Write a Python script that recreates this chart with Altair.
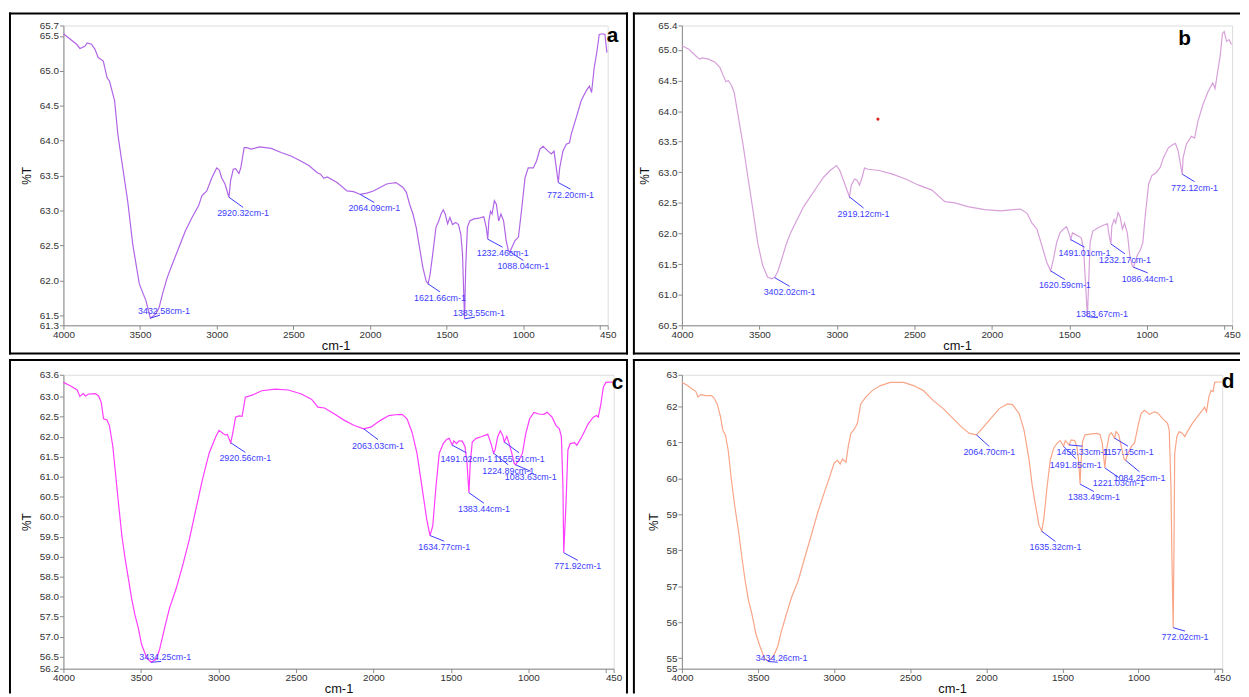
import altair as alt
import pandas as pd

FONT = "Liberation Sans"
BLUE = "#3c3cff"

# ---------------- panel a ----------------
a_wn = [4000, 3914, 3892, 3860, 3845, 3817, 3795, 3773, 3740, 3715, 3699, 3666, 3645, 3613, 3581, 3548,
        3505, 3462, 3432.58, 3397, 3376, 3353, 3323, 3290, 3247, 3204, 3161, 3118, 3097, 3065, 3032, 3000,
        2983, 2968, 2946, 2920.32, 2910, 2892, 2877, 2855, 2843, 2821, 2806, 2774, 2720, 2645, 2580, 2516,
        2452, 2397, 2344, 2323, 2301, 2279, 2215, 2150, 2107, 2064.09, 2021, 1978, 1935, 1892, 1860, 1832,
        1817, 1785, 1763, 1742, 1720, 1699, 1677, 1656, 1634, 1621.66, 1608, 1591, 1570, 1552, 1537, 1522,
        1510, 1494, 1479, 1462, 1441, 1423, 1408, 1397, 1383.55, 1376, 1365, 1350, 1323, 1290, 1258, 1242,
        1232.46, 1225, 1214, 1204, 1189, 1176, 1161, 1146, 1129, 1112, 1097, 1088.04, 1075, 1054, 1032, 1010,
        989, 968, 935, 914, 892, 871, 839, 817, 800, 785, 772.20, 763, 742, 720, 699, 688, 655, 623, 591,
        569, 555, 538, 520, 505, 484, 468, 455]
a_T = [65.53, 65.38, 65.32, 65.35, 65.40, 65.38, 65.31, 65.19, 65.14, 64.90, 64.85, 64.57, 64.09, 63.61, 63.14, 62.52,
       61.95, 61.71, 61.46, 61.52, 61.61, 61.81, 62.04, 62.23, 62.47, 62.71, 62.90, 63.07, 63.21, 63.28, 63.47, 63.61,
       63.58, 63.47, 63.38, 63.19, 63.42, 63.59, 63.60, 63.53, 63.61, 63.90, 63.90, 63.88, 63.91, 63.89, 63.83, 63.78,
       63.71, 63.64, 63.54, 63.52, 63.46, 63.48, 63.40, 63.28, 63.27, 63.23, 63.25, 63.28, 63.33, 63.38, 63.39, 63.40,
       63.38, 63.33, 63.26, 63.09, 62.95, 62.76, 62.47, 62.19, 61.99, 61.95, 62.09, 62.38, 62.76, 62.85, 62.95, 63.01,
       62.95, 62.81, 62.90, 62.80, 62.83, 62.80, 62.66, 62.38, 61.45, 62.19, 62.76, 62.85, 62.88, 62.89, 62.91, 62.76,
       62.59, 62.85, 62.99, 62.95, 63.14, 63.09, 62.85, 62.95, 62.85, 62.57, 62.42, 62.41, 62.47, 62.57, 62.62, 63.04,
       63.47, 63.61, 63.61, 63.71, 63.88, 63.92, 63.85, 63.81, 63.85, 63.61, 63.40, 63.61, 63.85, 63.95, 63.97, 64.09,
       64.33, 64.57, 64.71, 64.78, 64.69, 65.04, 65.28, 65.52, 65.53, 65.52, 65.26]
a_pk_wn = [3432.58, 2920.32, 2064.09, 1621.66, 1383.55, 1232.46, 1088.04, 772.20]
a_pk_T = [61.46, 63.19, 63.23, 61.95, 61.45, 62.59, 62.41, 63.40]
a_lb_wn = [3344, 2828, 1972, 1544, 1290, 1135, 1000, 692]
a_lb_T = [61.56, 62.96, 63.03, 61.75, 61.53, 62.39, 62.20, 63.22]
a_yticks = [61.357, 61.5, 62.0, 62.5, 63.0, 63.5, 64.0, 64.5, 65.0, 65.5, 65.649]

# ---------------- panel b ----------------
b_wn = [4000, 3955, 3913, 3887, 3871, 3828, 3786, 3754, 3733, 3716, 3701, 3680, 3663, 3638, 3606, 3574,
        3542, 3511, 3479, 3447, 3421, 3402.02, 3383, 3362, 3330, 3299, 3256, 3214, 3172, 3129, 3086, 3044,
        3002, 2981, 2949, 2919.12, 2907, 2886, 2870, 2854, 2837, 2822, 2800, 2727, 2641, 2557, 2472, 2387,
        2303, 2239, 2154, 2048, 1942, 1858, 1815, 1773, 1741, 1709, 1677, 1646, 1620.59, 1603, 1582, 1561,
        1539, 1518, 1503, 1491.01, 1480, 1465, 1444, 1423, 1408, 1395, 1383.67, 1376, 1366, 1349, 1317, 1285,
        1254, 1243, 1232.17, 1226, 1211, 1201, 1186, 1173, 1158, 1144, 1126, 1110, 1094, 1086.44, 1062, 1041,
        1026, 1009, 988, 967, 942, 914, 893, 861, 830, 815, 798, 772.12, 766, 745, 713, 692, 671, 639, 607,
        575, 560, 544, 527, 512, 501, 486, 469, 454]
b_T = [65.07, 65.01, 64.91, 64.85, 64.87, 64.85, 64.80, 64.71, 64.58, 64.48, 64.50, 64.42, 64.31, 63.94, 63.46, 62.92,
       62.39, 61.85, 61.48, 61.29, 61.26, 61.28, 61.37, 61.53, 61.80, 62.01, 62.23, 62.44, 62.60, 62.76, 62.92, 63.03,
       63.11, 63.03, 62.81, 62.60, 62.79, 62.89, 62.87, 62.79, 62.92, 63.07, 63.05, 63.03, 62.97, 62.89, 62.79, 62.71,
       62.52, 62.50, 62.44, 62.39, 62.37, 62.39, 62.40, 62.33, 62.17, 62.07, 61.80, 61.53, 61.39, 61.58, 61.85, 62.01,
       62.07, 62.11, 62.01, 61.90, 62.01, 61.99, 61.96, 61.93, 61.74, 61.16, 60.64, 61.16, 61.85, 62.04, 62.09, 62.13,
       62.16, 61.96, 61.83, 62.12, 62.23, 62.17, 62.34, 62.28, 62.07, 62.17, 62.01, 61.64, 61.47, 61.45, 61.64, 61.74,
       61.85, 62.33, 62.81, 62.95, 62.99, 63.08, 63.24, 63.40, 63.46, 63.47, 63.35, 62.97, 63.24, 63.46, 63.59, 63.56,
       63.83, 64.10, 64.31, 64.46, 64.37, 64.63, 64.90, 65.27, 65.30, 65.14, 65.17, 65.09]
b_pk_wn = [3402.02, 2919.12, 1620.59, 1491.01, 1383.67, 1232.17, 1086.44, 772.12]
b_pk_T = [61.28, 62.60, 61.39, 61.90, 60.64, 61.83, 61.45, 62.97]
b_lb_wn = [3305, 2828, 1529, 1402, 1290, 1141, 995, 692]
b_lb_T = [61.04, 62.32, 61.15, 61.68, 60.69, 61.57, 61.26, 62.75]
b_dot_wn = [2735]
b_dot_T = [63.87]
b_yticks = [60.5, 61.0, 61.5, 62.0, 62.5, 63.0, 63.5, 64.0, 64.5, 65.0, 65.4]

# ---------------- panel c ----------------
c_wn = [4000, 3953, 3911, 3894, 3872, 3858, 3837, 3794, 3773, 3756, 3741, 3719, 3703, 3681, 3666, 3645,
        3623, 3602, 3581, 3560, 3539, 3517, 3496, 3464, 3434.25, 3400, 3379, 3347, 3315, 3272, 3230, 3187,
        3145, 3103, 3060, 3017, 2996, 2970, 2953, 2943, 2920.56, 2908, 2889, 2868, 2847, 2826, 2783, 2720,
        2634, 2549, 2464, 2400, 2390, 2358, 2315, 2251, 2187, 2123, 2063.03, 2017, 1954, 1900, 1858, 1815,
        1783, 1751, 1719, 1687, 1656, 1634.77, 1617, 1596, 1575, 1549, 1528, 1511, 1491.02, 1481, 1464, 1447,
        1426, 1409, 1396, 1383.44, 1375, 1362, 1337, 1305, 1262, 1241, 1224.89, 1215, 1198, 1181, 1166,
        1155.51, 1139, 1124, 1107, 1092, 1083.63, 1060, 1038, 1017, 992, 964, 932, 900, 879, 847, 821, 800,
        787, 777, 771.92, 757, 745, 730, 702, 687, 655, 613, 581, 560, 549, 532, 517, 500, 464, 450]
c_T = [63.36, 63.27, 63.17, 63.01, 63.08, 63.02, 63.07, 63.08, 63.02, 62.86, 62.45, 62.42, 62.28, 61.75, 61.17, 60.35,
       59.53, 58.95, 58.46, 57.96, 57.55, 57.22, 56.81, 56.48, 56.36, 56.44, 56.69, 57.22, 57.72, 58.21, 58.79, 59.44,
       60.19, 60.93, 61.59, 62.00, 62.16, 62.08, 62.04, 62.06, 61.85, 62.08, 62.49, 62.52, 62.51, 62.99, 63.04, 63.15,
       63.19, 63.17, 63.07, 62.94, 62.90, 62.74, 62.72, 62.57, 62.41, 62.28, 62.20, 62.24, 62.41, 62.53, 62.55, 62.56,
       62.45, 62.12, 61.59, 60.76, 59.94, 59.53, 59.77, 60.76, 61.59, 61.83, 61.93, 61.96, 61.79, 61.90, 61.83, 61.90,
       61.89, 61.75, 61.34, 60.60, 61.34, 61.87, 61.96, 62.00, 62.06, 61.83, 61.59, 61.67, 62.00, 62.15, 62.04,
       61.87, 62.01, 61.83, 61.59, 61.34, 61.30, 61.42, 61.59, 62.08, 62.45, 62.61, 62.57, 62.56, 62.61, 62.49, 62.28, 62.20,
       62.00, 60.76, 59.10, 60.35, 61.67, 61.83, 61.85, 61.79, 62.00, 62.33, 62.49, 62.53, 62.49, 62.82, 63.23, 63.36, 63.37, 63.36]
c_pk_wn = [3434.25, 2920.56, 2063.03, 1634.77, 1491.02, 1383.44, 1224.89, 1155.51, 1083.63, 771.92]
c_pk_T = [56.36, 61.85, 62.20, 59.53, 61.79, 60.60, 61.59, 61.87, 61.30, 59.10]
c_lb_wn = [3343, 2826, 1970, 1543, 1400, 1287, 1130, 1060, 985, 681]
c_lb_T = [56.48, 61.46, 61.78, 59.24, 61.45, 60.19, 61.15, 61.45, 60.99, 58.76]
c_yticks = [56.2, 56.5, 57.0, 57.5, 58.0, 58.5, 59.0, 59.5, 60.0, 60.5, 61.0, 61.5, 62.0, 62.5, 63.0, 63.55]

# ---------------- panel d ----------------
d_wn = [4000, 3963, 3930, 3909, 3894, 3876, 3844, 3805, 3790, 3768, 3746, 3731, 3714, 3696, 3675, 3653,
        3627, 3605, 3584, 3562, 3540, 3514, 3486, 3458, 3434.26, 3400, 3371, 3345, 3313, 3280, 3237, 3194,
        3150, 3107, 3064, 3031, 2999, 2977, 2960, 2945, 2922, 2907, 2890, 2868, 2847, 2825, 2792, 2749,
        2695, 2630, 2543, 2478, 2413, 2348, 2283, 2218, 2153, 2110, 2064.70, 2045, 1980, 1915, 1861, 1828,
        1784, 1752, 1719, 1698, 1676, 1654, 1635.32, 1622, 1600, 1579, 1557, 1535, 1514, 1491.85, 1481,
        1456.33, 1442, 1420, 1405, 1394, 1383.49, 1379, 1368, 1351, 1319, 1275, 1253, 1238, 1227, 1221.03,
        1210, 1192, 1178, 1157.15, 1148, 1130, 1113, 1095, 1084.25, 1069, 1047, 1026, 1004, 983, 961, 928,
        896, 874, 841, 809, 798, 787, 781, 772.02, 767, 762, 748, 733, 711, 696, 679, 646, 614, 581, 566,
        553, 538, 523, 510, 499, 479, 463, 452]
d_T = [62.67, 62.58, 62.48, 62.42, 62.26, 62.33, 62.30, 62.30, 62.24, 62.07, 61.71, 61.34, 61.21, 60.79, 59.97, 59.24,
       58.51, 57.78, 57.14, 56.60, 56.23, 55.68, 55.32, 55.00, 54.91, 55.04, 55.32, 55.77, 56.23, 56.69, 57.14, 57.78,
       58.42, 59.06, 59.61, 60.02, 60.43, 60.50, 60.40, 60.54, 60.45, 60.89, 61.25, 61.36, 61.53, 62.07, 62.26, 62.44,
       62.58, 62.67, 62.67, 62.58, 62.44, 62.16, 61.94, 61.66, 61.39, 61.25, 61.21, 61.30, 61.62, 61.94, 62.07, 62.05,
       61.80, 61.34, 60.52, 59.79, 59.24, 58.70, 58.53, 58.88, 59.79, 60.52, 60.84, 60.98, 61.05, 60.89, 61.05,
       60.93, 61.07, 61.05, 60.89, 60.52, 59.84, 60.34, 61.02, 61.21, 61.23, 61.25, 61.22, 60.98, 60.52, 60.29,
       60.80, 61.21, 61.27, 61.12, 61.30, 61.21, 60.89, 60.54, 60.50, 60.70, 60.89, 60.98, 61.44, 61.80, 61.89, 61.78,
       61.85, 61.82, 61.66, 61.53, 61.34, 59.79, 57.97, 55.85, 57.97, 60.70, 61.16, 61.30, 61.25, 61.16, 61.30, 61.53,
       61.71, 61.89, 61.98, 61.85, 62.26, 62.44, 62.42, 62.67, 62.68, 62.68, 62.68]
d_pk_wn = [3434.26, 2064.70, 1635.32, 1456.33, 1491.85, 1383.49, 1221.03, 1157.15, 1084.25, 772.02]
d_pk_T = [54.91, 61.21, 58.53, 60.93, 60.89, 59.84, 60.29, 61.12, 60.50, 55.85]
d_lb_wn = [3345, 1980, 1546, 1368, 1412, 1293, 1130, 1069, 994, 694]
d_lb_T = [55.00, 60.72, 58.08, 60.73, 60.38, 59.47, 59.86, 60.73, 60.02, 55.59]
d_yticks = [54.71, 55, 56, 57, 58, 59, 60, 61, 62, 62.88]

X_TICKS = [4000, 3500, 3000, 2500, 2000, 1500, 1000, 500, 450]

ONE = pd.DataFrame({"k": [0]})


def frame_line(x1, y1, x2, y2):
    return alt.Chart(ONE).mark_rule(color="black", strokeWidth=2, strokeCap="square").encode(
        x=alt.value(x1), y=alt.value(y1), x2=alt.value(x2), y2=alt.value(y2))


def make_panel(wn, T, pk_wn, pk_T, lb_wn, lb_T, yticks, lo_lab, hi_lab, fmt,
               W, H, color, letter, letter_xy, frame, extra=None):
    ylo, yhi = yticks[0], yticks[-1]
    xs = alt.Scale(domain=[4000, 450], nice=False, zero=False)
    ys = alt.Scale(domain=[ylo, yhi], nice=False, zero=False)
    common = dict(grid=False, tickSize=4, labelFontSize=10, labelFont=FONT, labelColor="#333",
                  labelFlush=False, labelOverlap=False, domainColor="#8a8a8a",
                  tickColor="#8a8a8a", titleFont=FONT, titleFontWeight="normal", titleColor="#111")
    xaxis = alt.Axis(values=X_TICKS, title="cm-1",
                     labelExpr="datum.value == 500 ? '' : format(datum.value, 'd')",
                     labelPadding=0, titleFontSize=13, titlePadding=0, **common)
    yaxis = alt.Axis(values=yticks, title="%T",
                     labelExpr=(f"datum.value <= {ylo} + 1e-6 ? '{lo_lab}' : "
                                f"datum.value >= {yhi} - 1e-6 ? '{hi_lab}' : format(datum.value, '{fmt}')"),
                     labelPadding=1, titleFontSize=12, titlePadding=6, **common)

    def X(f):
        return alt.X(f"{f}:Q", scale=xs, axis=xaxis)

    def Y(f):
        return alt.Y(f"{f}:Q", scale=ys, axis=yaxis)

    spec = pd.DataFrame({"wn": wn, "T": T})
    pk = pd.DataFrame({"pw": pk_wn, "pT": pk_T, "lw": lb_wn, "lT": lb_T})
    pk["txt"] = [f"{w:.2f}cm-1" for w in pk_wn]
    pk["up"] = pk["lT"] > pk["pT"]

    layers = [frame_line(*f) for f in frame]
    layers.append(alt.Chart(spec).mark_line(color=color, strokeWidth=1.2).encode(x=X("wn"), y=Y("T")))
    layers.append(alt.Chart(pk).transform_filter("!datum.up").mark_rule(
        color=BLUE, strokeWidth=1, y2Offset=-6).encode(x=X("pw"), y=Y("pT"), x2="lw:Q", y2="lT:Q"))
    layers.append(alt.Chart(pk).transform_filter("datum.up").mark_rule(
        color=BLUE, strokeWidth=1, y2Offset=4, x2Offset=-4).encode(x=X("pw"), y=Y("pT"), x2="lw:Q", y2="lT:Q"))
    layers.append(alt.Chart(pk).mark_text(fontSize=9, font=FONT, color=BLUE).encode(
        x=X("lw"), y=Y("lT"), text="txt:N"))
    layers.append(alt.Chart(ONE).mark_text(fontSize=21, fontWeight="bold", font=FONT, color="black").encode(
        x=alt.value(letter_xy[0]), y=alt.value(letter_xy[1]), text=alt.value(letter)))
    if extra is not None:
        dot = pd.DataFrame({"dw": extra[0], "dT": extra[1]})
        layers.append(alt.Chart(dot).mark_point(filled=True, color="#e02020", size=10, opacity=1).encode(
            x=X("dw"), y=Y("dT")))
    return alt.layer(*layers).properties(width=W, height=H)


pa = make_panel(a_wn, a_T, a_pk_wn, a_pk_T, a_lb_wn, a_lb_T, a_yticks, "61.3", "65.7", ".1f",
                550, 303, "#b065e6", "a", (555, 10.5),
                [(-54, -12, 569.5, -12), (-54, -12, -54, 331.5), (569.5, -12, 569.5, 331.5),
                 (-54, 331.5, 569.5, 331.5)])
pb = make_panel(b_wn, b_T, b_pk_wn, b_pk_T, b_lb_wn, b_lb_T, b_yticks, "60.5", "65.4", ".1f",
                556, 303, "#d7a0da", "b", (508, 14),
                [(-48.5, -12, 563, -12), (-48.5, -12, -48.5, 331.5), (-48.5, 331.5, 563, 331.5)],
                extra=(b_dot_wn, b_dot_T))
pc = make_panel(c_wn, c_T, c_pk_wn, c_pk_T, c_lb_wn, c_lb_T, c_yticks, "56.2", "63.6", ".1f",
                556, 297, "#ff3cff", "c", (560, 8),
                [(-54, -15, 569.5, -15), (-54, -15, -54, 321), (569.5, -15, 569.5, 321)])
pd_ = make_panel(d_wn, d_T, d_pk_wn, d_pk_T, d_lb_wn, d_lb_T, d_yticks, "55", "63", ".0f",
                 546, 297, "#f9a587", "d", (552, 7.5),
                 [(-48.5, -15, 563, -15), (-48.5, -15, -48.5, 321)])

chart = alt.concat(pa, pb, pc, pd_, columns=2, spacing=2, align="each", bounds="full", padding=0
                   ).configure_view(strokeWidth=0).configure(background="white")

chart.save("out.html", embed_options={"renderer": "svg", "actions": False})
